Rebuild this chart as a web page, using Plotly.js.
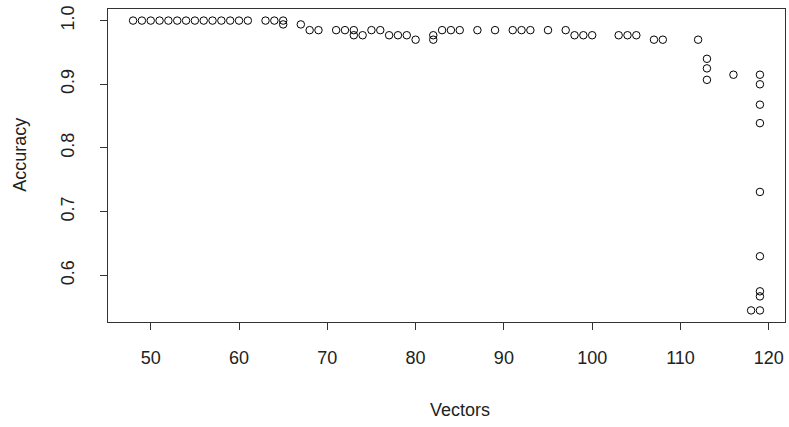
<!DOCTYPE html>
<html>
<head>
<meta charset="utf-8">
<script src="https://cdn.plot.ly/plotly-3.0.1.min.js"></script>
<style>
  html, body { margin: 0; padding: 0; background: #fff; }
  #chart { width: 789px; height: 427px; }
</style>
</head>
<body>
<div id="chart"></div>
<script>
// Number of vectors kept vs. classification accuracy
const vectors = [
  48, 49, 50, 51, 52, 53, 54, 55, 56, 57, 58, 59, 60, 61,
  63, 64, 65, 65, 67, 68, 69,
  71, 72, 73, 73, 74, 75, 76, 77, 78, 79, 80,
  82, 82, 83, 84, 85, 87, 89, 91, 92, 93, 95, 97,
  98, 99, 100, 103, 104, 105, 107, 108, 112,
  113, 113, 113, 116, 118,
  119, 119, 119, 119, 119, 119, 119, 119, 119
];
const accuracy = [
  1.000, 1.000, 1.000, 1.000, 1.000, 1.000, 1.000, 1.000, 1.000, 1.000, 1.000, 1.000, 1.000, 1.000,
  1.000, 1.000, 1.000, 0.994, 0.994, 0.985, 0.985,
  0.985, 0.985, 0.985, 0.977, 0.977, 0.985, 0.985, 0.977, 0.977, 0.977, 0.970,
  0.977, 0.970, 0.985, 0.985, 0.985, 0.985, 0.985, 0.985, 0.985, 0.985, 0.985, 0.985,
  0.977, 0.977, 0.977, 0.977, 0.977, 0.977, 0.970, 0.970, 0.970,
  0.940, 0.925, 0.907, 0.915, 0.545,
  0.915, 0.900, 0.868, 0.839, 0.731, 0.630, 0.575, 0.567, 0.545
];
const xTicks = [50, 60, 70, 80, 90, 100, 110, 120];
const yTicks = [0.6, 0.7, 0.8, 0.9, 1.0];
const yTickText = ['0.6', '0.7', '0.8', '0.9', '1.0'];

// Pad the ranges by 4% of the data span on each side
function padded(arr) {
  const lo = Math.min(...arr), hi = Math.max(...arr);
  const d = (hi - lo) * 0.04;
  return [lo - d, hi + d];
}

const font = { family: 'Liberation Sans, Arial, sans-serif', size: 18, color: '#222' };

const trace = {
  x: vectors,
  y: accuracy,
  type: 'scatter',
  mode: 'markers',
  marker: { symbol: 'circle-open', size: 7.5, color: '#000', line: { width: 1, color: '#000' } },
  hoverinfo: 'x+y'
};

const layout = {
  width: 789,
  height: 427,
  margin: { l: 108, r: 4, t: 9, b: 105 },
  paper_bgcolor: '#fff',
  plot_bgcolor: '#fff',
  font: font,
  showlegend: false,
  xaxis: {
    range: padded(vectors),
    tickvals: xTicks,
    ticks: 'outside',
    ticklen: 7,
    tickwidth: 1,
    tickcolor: '#333',
    showline: true,
    linecolor: '#333',
    linewidth: 1,
    mirror: true,
    showgrid: false,
    zeroline: false,
    ticklabelstandoff: 12,
    tickfont: font
  },
  yaxis: {
    range: padded(accuracy),
    tickvals: yTicks,
    ticktext: yTickText,
    tickangle: -90,
    ticks: 'outside',
    ticklen: 7,
    tickwidth: 1,
    tickcolor: '#333',
    showline: true,
    linecolor: '#333',
    linewidth: 1,
    mirror: true,
    showgrid: false,
    zeroline: false,
    ticklabelstandoff: 19,
    tickfont: font
  },
  annotations: [
    {
      text: 'Vectors', xref: 'paper', yref: 'paper',
      x: 0.52, y: -0.28, xanchor: 'center', yanchor: 'middle',
      showarrow: false, font: font
    },
    {
      text: 'Accuracy', xref: 'paper', yref: 'paper', textangle: -90,
      x: -0.131, y: 0.535, xanchor: 'center', yanchor: 'middle',
      showarrow: false, font: font
    }
  ]
};

Plotly.newPlot('chart', [trace], layout, { displayModeBar: false, staticPlot: true });
</script>
</body>
</html>
